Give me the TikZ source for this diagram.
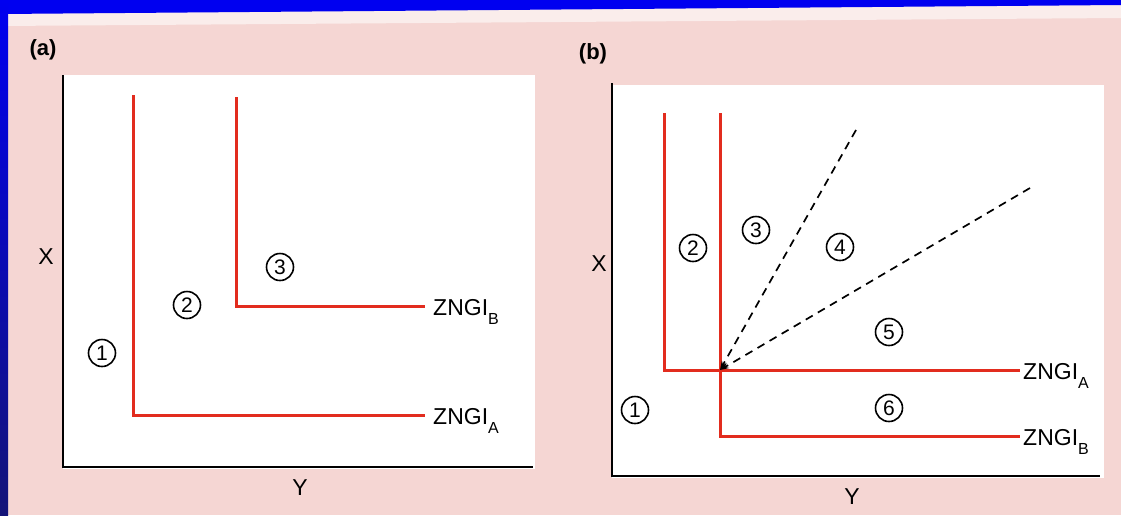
\documentclass[tikz,border=0pt]{standalone}
\usepackage{fontspec}
\setmainfont{Liberation Sans}
\usetikzlibrary{arrows.meta}
\definecolor{pinkbg}{RGB}{245,214,211}
\definecolor{bandblue}{RGB}{0,0,240}
\definecolor{navyblue}{RGB}{20,20,120}
\definecolor{zred}{RGB}{226,44,30}
\tikzset{
  axisline/.style={line width=2.5pt, black, line join=miter},
  zngiline/.style={line width=3pt, zred, line join=miter},
  dashline/.style={line width=1.7pt, black, dash pattern=on 8pt off 6pt, -{Stealth[length=9pt,width=6pt]}},
  num/.style={circle, draw, line width=1.6pt, inner sep=0pt, minimum size=27pt, font=\fontsize{21}{21}\selectfont},
  lbl/.style={inner sep=0pt, font=\fontsize{23}{23}\selectfont},
  panellbl/.style={inner sep=0pt, font=\bfseries\fontsize{22}{22}\selectfont},
}
\newcommand{\zsub}[1]{\raisebox{-0.42em}{\fontsize{16}{16}\selectfont #1}}
\begin{document}
\begin{tikzpicture}[x=1pt,y=-1pt]
\useasboundingbox (0,0) rectangle (1121,515);
% background
\fill[pinkbg] (0,0) rectangle (1121,515);
\fill[white!55!pinkbg] (0,12) -- (1121,4) -- (1121,18) -- (0,26) -- cycle;
\fill[bandblue] (0,0) -- (1121,0) -- (1121,5) -- (0,14) -- cycle;
\shade[top color=bandblue, bottom color=navyblue] (0,0) rectangle (8,515);
% white panels
\fill[white] (63,75) rectangle (535,469);
\fill[white] (612,85) rectangle (1104,478);

% ---------- panel (a) ----------
\node[panellbl] (pa) at (43,50) {(a)};
\coordinate (aTop) at (63,75);
\coordinate (aO) at (63,467);
\coordinate (aRight) at (533,467);
\draw[axisline] (aTop) -- (aO) -- (aRight);
\node[lbl] (ax) at (46,257) {X};
\node[lbl] (ay) at (300,488) {Y};

\coordinate (aAtop) at (133,95);
\coordinate (aAc) at (133,415);
\coordinate (aAend) at (425,415);
\draw[zngiline] (aAtop) -- (aAc) -- (aAend);
\node[lbl, anchor=base west] (aAl) at (433,424) {ZNGI\zsub{A}};

\coordinate (aBtop) at (236,97);
\coordinate (aBc) at (236,306);
\coordinate (aBend) at (425,306);
\draw[zngiline] (aBtop) -- (aBc) -- (aBend);
\node[lbl, anchor=base west] (aBl) at (433,315) {ZNGI\zsub{B}};

\node[num] (a1) at (102,353) {1};
\node[num] (a2) at (187,305) {2};
\node[num] (a3) at (280,267) {3};

% ---------- panel (b) ----------
\node[panellbl] (pb) at (593,54) {(b)};
\coordinate (bTop) at (612,83);
\coordinate (bO) at (612,476);
\coordinate (bRight) at (1100,476);
\draw[axisline] (bTop) -- (bO) -- (bRight);
\node[lbl] (bx) at (599,264) {X};
\node[lbl] (by) at (852,497) {Y};

\coordinate (bAtop) at (664,113);
\coordinate (bAc) at (664,370);
\coordinate (bAend) at (1020,370);
\draw[zngiline] (bAtop) -- (bAc) -- (bAend);
\node[lbl, anchor=base west] (bAl) at (1023,379) {ZNGI\zsub{A}};

\coordinate (bBtop) at (720,113);
\coordinate (bBc) at (720,436);
\coordinate (bBend) at (1020,436);
\draw[zngiline] (bBtop) -- (bBc) -- (bBend);
\node[lbl, anchor=base west] (bBl) at (1023,445) {ZNGI\zsub{B}};

\coordinate (cross) at (720,370);
\coordinate (d1) at (856,130);
\coordinate (d2) at (1030,188);
\draw[dashline] (d1) -- (cross);
\draw[dashline] (d2) -- (cross);

\node[num] (b1) at (635,410) {1};
\node[num] (b2) at (693,248) {2};
\node[num] (b3) at (756,230) {3};
\node[num] (b4) at (840,247) {4};
\node[num] (b5) at (889,332) {5};
\node[num] (b6) at (889,408) {6};
\end{tikzpicture}
\end{document}
